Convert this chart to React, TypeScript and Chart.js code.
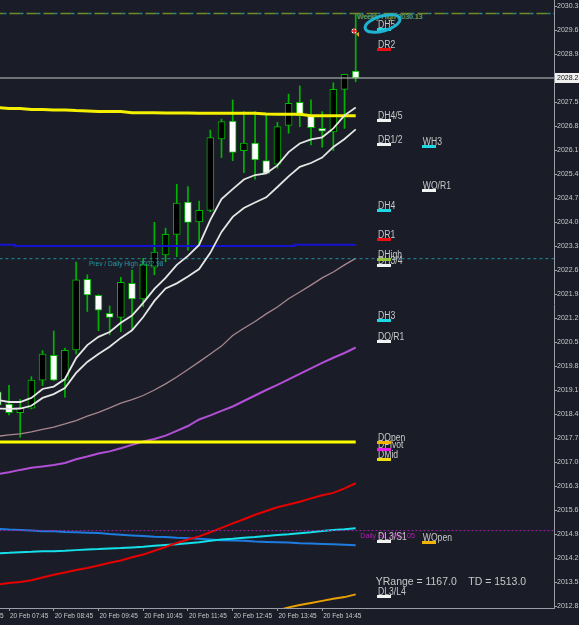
import React, { useEffect, useRef } from 'react';
import { Chart, registerables } from 'chart.js';

Chart.register(...registerables);

// ---------- DATA ----------
const times = ['07:30','07:45','08:00','08:15','08:30','08:45','09:00','09:15','09:30','09:45','10:00','10:15','10:30','10:45','11:00','11:15','11:30','11:45','12:00','12:15','12:30','12:45','13:00','13:15','13:30','13:45','14:00','14:15','14:30','14:45','15:00','15:15','15:30'];
const opens  = [2019.10,2018.74,2018.49,2018.62,2019.44,2020.16,2019.44,2020.32,2022.38,2021.91,2021.39,2021.27,2022.26,2021.81,2022.73,2023.09,2023.69,2024.63,2024.05,2024.39,2026.47,2026.99,2026.13,2026.35,2025.84,2025.74,2026.87,2027.54,2027.17,2026.78,2026.68,2027.92,2028.45];
const highs  = [2019.22,2019.29,2018.88,2019.54,2020.30,2020.87,2020.37,2022.88,2022.51,2021.93,2021.60,2022.44,2022.65,2022.99,2024.04,2023.87,2025.15,2025.08,2024.66,2026.73,2027.05,2027.61,2027.27,2027.27,2027.17,2026.96,2027.78,2028.02,2027.61,2027.27,2028.11,2028.36,2030.13];
const lows   = [2018.60,2018.42,2017.77,2018.60,2019.28,2019.42,2018.94,2020.20,2021.44,2020.88,2020.76,2020.85,2020.90,2021.58,2022.51,2022.89,2023.04,2023.23,2023.38,2024.35,2025.93,2025.84,2025.49,2025.30,2025.47,2025.62,2026.64,2026.83,2026.30,2026.23,2026.13,2026.78,2028.14];
const closes = [2018.71,2018.49,2018.62,2019.44,2020.20,2019.44,2020.31,2022.36,2021.92,2021.48,2021.27,2022.29,2021.81,2022.82,2023.17,2023.69,2024.60,2024.04,2024.39,2026.51,2026.98,2026.08,2026.35,2025.86,2025.47,2026.83,2027.51,2027.15,2026.80,2026.70,2027.92,2028.36,2028.25];

const maFastWhite = [2018.86,2018.80,2018.80,2018.92,2019.18,2019.25,2019.47,2020.08,2020.46,2020.70,2020.84,2021.11,2021.32,2021.69,2022.10,2022.42,2022.80,2023.06,2023.38,2024.11,2024.72,2025.01,2025.29,2025.42,2025.47,2025.70,2026.09,2026.34,2026.46,2026.52,2026.78,2027.16,2027.39];
const maSlowWhite = [2018.61,2018.60,2018.61,2018.69,2018.92,2019.03,2019.21,2019.65,2019.97,2020.20,2020.41,2020.67,2020.89,2021.28,2021.75,2022.11,2022.26,2022.46,2022.68,2023.15,2023.76,2024.20,2024.46,2024.62,2024.77,2025.07,2025.38,2025.66,2025.77,2025.93,2026.24,2026.47,2026.75];
const maRose = [2017.80,2017.84,2017.87,2017.93,2018.00,2018.07,2018.16,2018.26,2018.39,2018.50,2018.63,2018.77,2018.87,2018.99,2019.15,2019.33,2019.53,2019.75,2019.97,2020.20,2020.43,2020.74,2020.95,2021.15,2021.37,2021.57,2021.81,2022.01,2022.21,2022.42,2022.59,2022.80,2022.99];
const maViolet = [2016.70,2016.75,2016.82,2016.88,2016.92,2016.96,2017.02,2017.13,2017.21,2017.30,2017.36,2017.45,2017.55,2017.65,2017.72,2017.82,2017.96,2018.10,2018.29,2018.41,2018.54,2018.67,2018.83,2018.99,2019.15,2019.30,2019.46,2019.62,2019.78,2019.94,2020.09,2020.23,2020.39];
const maRed = [2013.48,2013.52,2013.55,2013.60,2013.68,2013.76,2013.83,2013.90,2013.96,2014.03,2014.11,2014.18,2014.27,2014.35,2014.46,2014.57,2014.69,2014.79,2014.88,2015.00,2015.13,2015.26,2015.38,2015.51,2015.62,2015.73,2015.81,2015.89,2015.99,2016.08,2016.15,2016.28,2016.43];
const maCyan = [2014.39,2014.40,2014.42,2014.43,2014.45,2014.45,2014.46,2014.48,2014.50,2014.51,2014.53,2014.54,2014.56,2014.58,2014.61,2014.63,2014.65,2014.68,2014.71,2014.75,2014.79,2014.81,2014.84,2014.86,2014.89,2014.92,2014.94,2014.97,2015.00,2015.04,2015.07,2015.09,2015.12];
const maBlue = [2015.10,2015.08,2015.07,2015.05,2015.03,2015.03,2015.01,2015.00,2014.99,2014.98,2014.95,2014.93,2014.91,2014.89,2014.87,2014.86,2014.84,2014.83,2014.81,2014.79,2014.77,2014.76,2014.75,2014.73,2014.72,2014.71,2014.70,2014.68,2014.67,2014.66,2014.65,2014.64,2014.62];
const maOrange = [null,null,null,null,null,null,null,null,null,null,null,null,null,null,null,null,null,null,null,null,null,null,null,null,null,2012.72,2012.81,2012.88,2012.94,2013.00,2013.06,2013.11,2013.19];
const maYellow = [2027.39,2027.36,2027.36,2027.33,2027.33,2027.32,2027.32,2027.30,2027.29,2027.27,2027.27,2027.27,2027.24,2027.24,2027.24,2027.23,2027.23,2027.23,2027.22,2027.22,2027.22,2027.22,2027.22,2027.22,2027.20,2027.19,2027.19,2027.19,2027.15,2027.15,2027.15,2027.15,2027.15];
const navyLevel = [2023.39,2023.39,2023.35,2023.35,2023.35,2023.35,2023.35,2023.35,2023.35,2023.35,2023.35,2023.35,2023.35,2023.35,2023.35,2023.35,2023.35,2023.35,2023.35,2023.35,2023.35,2023.35,2023.35,2023.35,2023.35,2023.35,2023.35,2023.39,2023.39,2023.39,2023.39,2023.39,2023.39];
const dailyOpenLevel = 2017.63;

const currentPrice = 2028.25;
const weeklyHigh = 2030.13;
const prevDailyHigh = 2022.98;
const dailyS1 = 2015.05;

const yTicks = [2030.35,2029.65,2028.95,2028.25,2027.55,2026.85,2026.15,2025.45,2024.75,2024.05,2023.35,2022.65,2021.95,2021.25,2020.55,2019.85,2019.15,2018.45,2017.75,2017.05,2016.35,2015.65,2014.95,2014.25,2013.55,2012.85];
const xTickTimes = ['06:45','07:45','08:45','09:45','10:45','11:45','12:45','13:45','14:45'];
const xTickLabels = ['20 Feb 06:45','20 Feb 07:45','20 Feb 08:45','20 Feb 09:45','20 Feb 10:45','20 Feb 11:45','20 Feb 12:45','20 Feb 13:45','20 Feb 14:45'];

const levelNames  = ['DH5','DR2','DH4/5','DR1/2','WH3','WO/R1','DH4','DR1','DHigh','DH3/4','DH3','DO/R1','DOpen','DPivot','DMid','DL3/S1','WOpen','DL3/L4'];
const levelPrices = [2029.67,2029.07,2027.00,2026.30,2026.25,2024.98,2024.39,2023.53,2022.97,2022.77,2021.18,2020.56,2017.63,2017.42,2017.13,2014.73,2014.69,2013.14];
const levelColors = ['#1fd8e6','#e81010','#f2f2f2','#f2f2f2','#1fd8e6','#f2f2f2','#1fd8e6','#e81010','#98c23a','#f2f2f2','#1fd8e6','#f2f2f2','#f2b400','#e81ee8','#f0e010','#f2f2f2','#f2b400','#f2f2f2'];
const levelWeekly = [false,false,false,false,true,true,false,false,false,false,false,false,false,false,false,false,true,false];

const yRangeText = 'YRange = 1167.0    TD = 1513.0';

// ---------- LAYOUT CONSTANTS ----------
const W = 579, H = 625;
const BG = '#1a1d27';
const GREEN = '#00b400';
const AXIS = '#9a9ea6';
const TXT = '#c9c9c9';
const X_MIN = -0.805;
const X_MAX = 48.73;
const Y_MIN = 2012.792;
const Y_MAX = 2030.525;

const idxOf = (t: string) => times.indexOf(t) - 1;
const pts = (arr: (number | null)[]) => arr.map((v, i) => ({ x: i - 1, y: v }));
const hline = (v: number) => [{ x: -3, y: v }, { x: 60, y: v }];

function drawText(ctx: CanvasRenderingContext2D, text: string, px: number, py: number, font: string, color: string, sx = 1, baseline: CanvasTextBaseline = 'alphabetic') {
  ctx.save();
  ctx.font = font;
  ctx.fillStyle = color;
  ctx.textAlign = 'left';
  ctx.textBaseline = baseline;
  ctx.translate(px, py);
  ctx.scale(sx, 1);
  ctx.fillText(text, 0, 0);
  ctx.restore();
}

const overlayPlugin = {
  id: 'overlay',
  afterDatasetsDraw(chart: any) {
    const { ctx, scales } = chart;
    const xs = scales.x, ys = scales.y;
    ctx.save();
    // text annotations on lines
    drawText(ctx, 'Prev / Daily High ' + prevDailyHigh.toFixed(2), xs.getPixelForValue(7.15), ys.getPixelForValue(2022.83), '8px "Liberation Sans"', '#2a9aaa', 0.82, 'middle');
    drawText(ctx, 'Weekly High ' + weeklyHigh.toFixed(2), xs.getPixelForValue(31.1) + 0.7, ys.getPixelForValue(2030.03), '8px "Liberation Sans"', '#2a9aaa', 0.86, 'middle');
    drawText(ctx, 'Weekly High ' + weeklyHigh.toFixed(2), xs.getPixelForValue(31.1), ys.getPixelForValue(2030.03), '8px "Liberation Sans"', '#7f9a30', 0.86, 'middle');
    drawText(ctx, 'Daily S1 ' + dailyS1.toFixed(2), xs.getPixelForValue(31.4), ys.getPixelForValue(2014.89), '8px "Liberation Sans"', '#b020b0', 0.9, 'middle');

    // level labels, lowest first so upper ones overlap
    const order = levelPrices.map((p, i) => i).sort((a, b) => levelPrices[a] - levelPrices[b]);
    for (const i of order) {
      const px = xs.getPixelForValue(levelWeekly[i] ? 37 : 33);
      const py = ys.getPixelForValue(levelPrices[i]);
      drawText(ctx, levelNames[i], px, py - 1.5, '10px "Liberation Sans"', '#c8c8c8', 0.86);
      ctx.fillStyle = levelColors[i];
      ctx.fillRect(Math.round(px) - 1, Math.round(py - 1.5), 14, 3);
    }

    drawText(ctx, yRangeText, xs.getPixelForValue(32.8), ys.getPixelForValue(2013.55), '11px "Liberation Sans"', '#c8c8c8', 0.95, 'middle');

    // weekly-high marker
    const mx = xs.getPixelForValue(30.85), my = ys.getPixelForValue(2029.62);
    ctx.fillStyle = '#ffffff';
    ctx.beginPath(); ctx.arc(mx, my, 2.5, 0, Math.PI * 2); ctx.fill();
    ctx.strokeStyle = '#e01818'; ctx.lineWidth = 1.5;
    ctx.beginPath(); ctx.moveTo(mx - 3, my); ctx.lineTo(mx + 3, my); ctx.moveTo(mx, my - 3); ctx.lineTo(mx, my + 3); ctx.stroke();
    ctx.fillStyle = '#f0a030';
    ctx.beginPath(); ctx.moveTo(mx + 2, my + 3); ctx.lineTo(mx + 5, my + 1); ctx.lineTo(mx + 5, my + 6); ctx.closePath(); ctx.fill();

    // hand-drawn ellipse around DH5
    const ex = xs.getPixelForValue(33.4), ey = ys.getPixelForValue(2029.84);
    ctx.strokeStyle = '#1fb3d2'; ctx.lineWidth = 3;
    ctx.beginPath(); ctx.ellipse(ex, ey, 18, 7.5, -0.28, 0, Math.PI * 2); ctx.stroke();
    ctx.restore();
  },
  afterDraw(chart: any) {
    const { ctx, scales } = chart;
    const ys = scales.y;
    const py = Math.round(ys.getPixelForValue(currentPrice));
    const left = ys.left + 1;
    ctx.save();
    ctx.fillStyle = '#f0f0f0';
    ctx.fillRect(left, py - 5, W - left, 10);
    ctx.fillStyle = '#111111';
    ctx.font = '7px "Liberation Sans"';
    ctx.textBaseline = 'middle';
    ctx.fillText(currentPrice.toFixed(2), ys.left + 3, py + 0.5);
    ctx.restore();
  },
};

export default function App() {
  const ref = useRef<HTMLCanvasElement>(null);
  useEffect(() => {
    const canvas = ref.current;
    if (!canvas) return;
    const wickData = times.map((t, i) => ({ x: i - 1, y: [lows[i], highs[i]] }));
    const bodyData = times.map((t, i) => ({ x: i - 1, y: [Math.min(opens[i], closes[i]), Math.max(opens[i], closes[i])] }));
    const bodyColors = times.map((t, i) => (closes[i] < opens[i] ? '#ffffff' : '#000000'));
    const tickIdx = xTickTimes.map((t) => (t === '06:45' ? -4 : idxOf(t)));

    const line = (data: any, color: string, width: number, order: number, extra: any = {}) => ({
      type: 'line', data, borderColor: color, borderWidth: width, pointRadius: 0, tension: 0, fill: false, order, spanGaps: false, ...extra,
    });

    const chart = new Chart(canvas, {
      type: 'bar',
      data: {
        datasets: [
          line(pts(maFastWhite), '#e6e6e6', 1.8, 1),
          line(pts(maSlowWhite), '#e6e6e6', 1.8, 1),
          line(pts(maYellow), '#f4f000', 3, 2),
          line(pts(navyLevel), '#1414d0', 2, 2, { stepped: 'middle' }),
          line(pts(times.map(() => dailyOpenLevel)), '#ffff00', 3, 2),
          line(hline(currentPrice), '#c8c8c8', 1, 3),
          line(hline(prevDailyHigh), '#1e8e9a', 1, 3, { borderDash: [3, 3] }),
          line(hline(weeklyHigh), '#6f8a2a', 1.5, 3, { borderDash: [11, 6] }),
          line(hline(weeklyHigh), '#1e8e9a', 1.5, 3, { borderDash: [3, 14], borderDashOffset: -11 }),
          line(hline(dailyS1), '#a020a8', 1, 3, { borderDash: [2, 2] }),
          line(pts(maRose), '#a88690', 1.3, 4),
          line(pts(maViolet), '#b24fd6', 2, 4),
          line(pts(maRed), '#e60000', 2, 4),
          line(pts(maCyan), '#14e0ea', 2, 4),
          line(pts(maBlue), '#1e7ce0', 2, 5),
          line(pts(maOrange), '#eaa000', 2, 4),
          { type: 'bar', data: bodyData, backgroundColor: bodyColors, borderColor: GREEN, borderWidth: 1, borderSkipped: false, barThickness: 7, grouped: false, order: 9 },
          { type: 'bar', data: wickData, backgroundColor: GREEN, borderWidth: 0, barThickness: 1, grouped: false, order: 10 },
        ] as any,
      },
      options: {
        responsive: false,
        animation: false,
        devicePixelRatio: 1,
        events: [],
        layout: { padding: 0, autoPadding: false },
        plugins: { legend: { display: false }, tooltip: { enabled: false } },
        scales: {
          x: {
            type: 'linear', min: X_MIN, max: X_MAX, offset: false,
            grid: { display: true, drawOnChartArea: false, drawTicks: true, tickLength: 3, color: AXIS, offset: false },
            border: { display: true, color: AXIS, width: 1 },
            ticks: {
              autoSkip: false, maxRotation: 0, minRotation: 0, align: 'start', padding: 1, labelOffset: 1,
              color: TXT, font: { family: 'Liberation Sans', size: 6.5 },
              callback: (v: any, i: number) => xTickLabels[i],
            },
            afterBuildTicks: (s: any) => { s.ticks = tickIdx.map((v) => ({ value: v })); },
            afterFit: (s: any) => { s.height = H - 608; s.paddingLeft = 0; s.paddingRight = 0; },
          },
          y: {
            type: 'linear', position: 'right', min: Y_MIN, max: Y_MAX,
            grid: { display: true, drawOnChartArea: false, drawTicks: true, tickLength: 3, color: AXIS },
            border: { display: true, color: AXIS, width: 1 },
            ticks: {
              padding: 0, color: TXT, font: { family: 'Liberation Sans', size: 7 },
              callback: (v: any) => Number(v).toFixed(2),
            },
            afterBuildTicks: (s: any) => { s.ticks = yTicks.map((v) => ({ value: v })); },
            afterFit: (s: any) => { s.width = W - 554; s.paddingTop = 0; s.paddingBottom = 0; },
          },
        },
      } as any,
      plugins: [overlayPlugin],
    } as any);
    return () => chart.destroy();
  }, []);

  return (
    <div style={{ position: 'fixed', left: 0, top: 0, width: W, height: H, background: BG }}>
      <canvas ref={ref} width={W} height={H} style={{ display: 'block', width: W, height: H }} />
    </div>
  );
}
